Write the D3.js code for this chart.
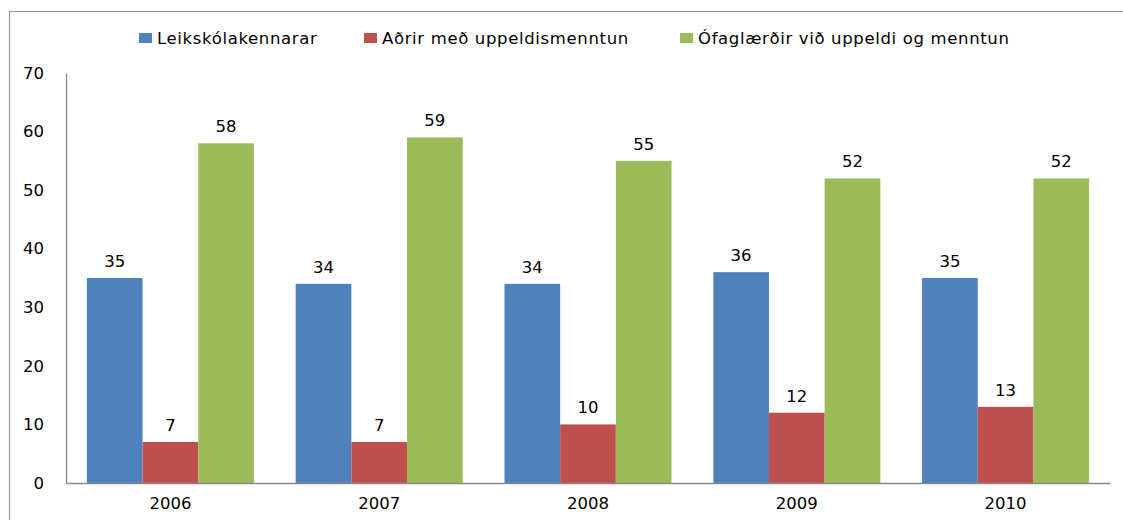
<!DOCTYPE html>
<html><head><meta charset="utf-8">
<script src="https://cdn.jsdelivr.net/npm/d3@7"></script>
<style>html,body{margin:0;padding:0;background:#fff}svg{display:block}</style>
</head><body>
<svg id="c" width="1123" height="520"></svg>
<script>
const categories = ["2006","2007","2008","2009","2010"];
const seriesNames = ["Leikskólakennarar","Aðrir með uppeldismenntun","Ófaglærðir við uppeldi og menntun"];
const leikskolakennarar = [35,34,34,36,35];
const adrir = [7,7,10,12,13];
const ofaglaerdir = [58,59,55,52,52];
const yTicks = [0,10,20,30,40,50,60,70];
const colors = ["#4F81BD","#C0504D","#9BBB59"];
const seriesValues = [leikskolakennarar, adrir, ofaglaerdir];

const svg = d3.select("#c");
const font = "'DejaVu Sans', sans-serif";
const fs = 16.5;
svg.append("rect").attr("x",9.5).attr("y",11.5).attr("width",1140).attr("height",540)
  .attr("fill","none").attr("stroke","#999").attr("stroke-width",1.2);

const pLeft=66, pRight=1110, pTop=73, pBottom=483;
const x = d3.scaleBand().domain(categories).range([pLeft,pRight]).paddingInner(0.2).paddingOuter(0.1);
const xs = d3.scaleBand().domain(d3.range(3)).range([0,x.bandwidth()]);
const y = d3.scaleLinear().domain([0,70]).range([pBottom,pTop]);

// y axis
const ya = svg.append("g").attr("transform",`translate(${pLeft},0)`)
  .call(d3.axisLeft(y).tickValues(yTicks).tickSize(0).tickPadding(22));
ya.select(".domain").attr("stroke","#888").attr("stroke-width",1.3);
ya.selectAll("text").attr("font-family",font).attr("font-size",fs).attr("fill","#000");

const groups = svg.append("g").selectAll("g").data(categories).join("g")
  .attr("transform",d=>`translate(${x(d)},0)`);
seriesValues.forEach((vals,si)=>{
  groups.append("rect")
    .attr("x",xs(si)).attr("width",xs.bandwidth())
    .attr("y",(d,i)=>y(vals[i])).attr("height",(d,i)=>pBottom-y(vals[i]))
    .attr("fill",colors[si]);
  groups.append("text")
    .attr("x",xs(si)+xs.bandwidth()/2).attr("y",(d,i)=>y(vals[i])-11)
    .attr("text-anchor","middle").attr("font-family",font).attr("font-size",fs)
    .text((d,i)=>vals[i]);
});

// x axis
const xa = svg.append("g").attr("transform",`translate(0,${pBottom})`)
  .call(d3.axisBottom(x).tickSize(0).tickPadding(14));
xa.select(".domain").attr("stroke","#888").attr("stroke-width",1.3);
xa.selectAll("text").attr("font-family",font).attr("font-size",fs).attr("fill","#000");

// legend
const legendX = [139, 364, 680];
const lg = svg.append("g").selectAll("g").data(seriesNames).join("g")
  .attr("transform",(d,i)=>`translate(${legendX[i]},33)`);
lg.append("rect").attr("width",13).attr("height",10).attr("fill",(d,i)=>colors[i]);
lg.append("text").attr("x",18).attr("y",5).attr("dy","0.35em")
  .attr("font-family",font).attr("font-size",fs).attr("letter-spacing",0.65).text(d=>d);
</script>
</body></html>
